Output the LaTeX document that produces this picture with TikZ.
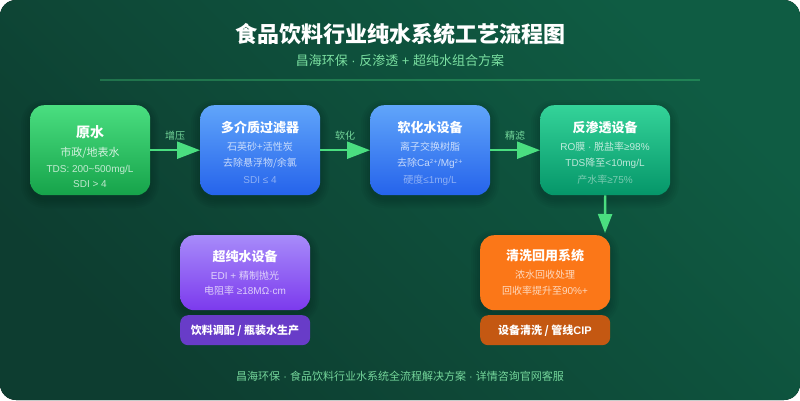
\documentclass[tikz,border=0pt]{standalone}
\usepackage{fontspec}
\setmainfont{Liberation Sans}
\newfontfamily\cjkf{Noto Sans CJK SC}
\newfontfamily\supf{DejaVu Sans}
\newcommand{\zh}[1]{{\cjkf #1}}
\usetikzlibrary{arrows.meta}
\definecolor{bgA}{HTML}{0D3D30}
\definecolor{bgB}{HTML}{0F5C43}
\definecolor{arrowgreen}{HTML}{4ADE80}
\definecolor{lab}{HTML}{86EFAC}
\definecolor{gA}{HTML}{4ADE80}\definecolor{gB}{HTML}{16A34A}
\definecolor{bA}{HTML}{60A5FA}\definecolor{bB}{HTML}{2563EB}
\definecolor{tA}{HTML}{34D399}\definecolor{tB}{HTML}{059669}
\definecolor{pA}{HTML}{A78BFA}\definecolor{pB}{HTML}{7C3AED}
\definecolor{oA}{HTML}{FB7718}
\definecolor{pD}{HTML}{683CC8}\definecolor{oD}{HTML}{C45812}
\tikzset{
  x=1pt,y=-1pt,
  boxbase/.style={rectangle,rounded corners=14pt,inner sep=0pt,minimum height=#1,anchor=north west},
  outbox/.style={rectangle,rounded corners=8pt,inner sep=0pt,minimum height=30pt,minimum width=130pt,anchor=north west},
  ttl/.style={font=\fontsize{13}{15}\selectfont\bfseries,text=white,anchor=center,inner sep=0pt},
  sub/.style={font=\fontsize{10}{12}\selectfont,text=white,text opacity=.72,anchor=center,inner sep=0pt},
  subf/.style={font=\fontsize{10}{12}\selectfont,text=white,text opacity=.45,anchor=center,inner sep=0pt},
  arr/.style={draw=arrowgreen,line width=2.4pt,-{Triangle[length=23pt,width=17pt]}},
  arrd/.style={draw=arrowgreen,line width=2.4pt,shorten >=2pt,-{Triangle[length=19pt,width=14pt]}},
  edgelab/.style={font=\fontsize{10}{12}\selectfont,text=lab,text opacity=.85,anchor=center,inner sep=0pt},
  foot/.style={font=\fontsize{11}{13}\selectfont,text=lab,text opacity=.85,anchor=center,inner sep=0pt},
  outtxt/.style={font=\fontsize{11}{13}\selectfont\bfseries,text=white,inner sep=0pt},
}
\newcommand{\softshadow}[4]{% x0,y0,x1,y1
  \foreach \e in {9,7,5,3,1}{
    \fill[black,opacity=.03,rounded corners={14pt+\e pt}]
      (#1-\e,#2+4-\e) rectangle (#3+\e,#4+4+\e);
  }
}
\begin{document}
\begin{tikzpicture}
\useasboundingbox (0,0) rectangle (800,400);
\fill[white] (0,0) rectangle (800,400);
\fill[rounded corners=16pt,left color=bgA,right color=bgB,shading angle=135] (0,0) rectangle (800,400);

\node[font=\fontsize{22}{26}\selectfont\bfseries,text=white,inner sep=0pt] (title) at (400,34) {\zh{食品饮料行业纯水系统工艺流程图}};
\node[font=\fontsize{13}{16}\selectfont,text=lab,text opacity=.9,inner sep=0pt] (subtitle) at (400,61) {\zh{昌海环保} · \zh{反渗透} + \zh{超纯水组合方案}};
\draw[draw=arrowgreen,draw opacity=.3,line width=1.2pt] (100,80) coordinate (ruleL) -- (700,80) coordinate (ruleR);

\softshadow{30}{105}{150}{195}
\softshadow{200}{105}{320}{195}
\softshadow{370}{105}{490}{195}
\softshadow{540}{105}{670}{195}
\softshadow{180}{235}{310}{310}
\softshadow{480}{235}{610}{310}

\node[boxbase=90pt,minimum width=120pt,top color=gA,bottom color=gB] (raw) at (30,105) {};
\node[boxbase=90pt,minimum width=120pt,top color=bA,bottom color=bB] (media) at (200,105) {};
\node[boxbase=90pt,minimum width=120pt,top color=bA,bottom color=bB] (soft) at (370,105) {};
\node[boxbase=90pt,minimum width=130pt,top color=tA,bottom color=tB] (ro) at (540,105) {};
\node[boxbase=75pt,minimum width=130pt,top color=pA,bottom color=pB] (ultra) at (180,235) {};
\node[boxbase=75pt,minimum width=130pt,fill=oA] (clean) at (480,235) {};
\node[outbox,fill=pD] (ultraout) at (180,315) {};
\node[outbox,fill=oD] (cleanout) at (480,315) {};

% raw
\node[ttl,font=\fontsize{14}{16}\selectfont\bfseries] (t1) at (90,132) {\zh{原水}};
\node[sub,font=\fontsize{11}{13}\selectfont,text opacity=.8] (t1a) at (90,153) {\zh{市政/地表水}};
\node[sub] (t1b) at (90,170) {TDS: 200\textasciitilde500mg/L};
\node[sub] (t1c) at (90,184) {SDI > 4};
% media
\node[ttl] (t2) at (260,128) {\zh{多介质过滤器}};
\node[sub] (t2a) at (260,147) {\zh{石英砂+活性炭}};
\node[sub] (t2b) at (260,163) {\zh{去除悬浮物/余氯}};
\node[subf] (t2c) at (260,180) {SDI ≤ 4};
% soft
\node[ttl] (t3) at (430,128) {\zh{软化水设备}};
\node[sub] (t3a) at (430,147) {\zh{离子交换树脂}};
\node[sub] (t3b) at (430,163) {\zh{去除}Ca{\supf\fontsize{5.5}{7}\selectfont\raisebox{2.5pt}{2+}}/Mg{\supf\fontsize{5.5}{7}\selectfont\raisebox{2.5pt}{2+}}};
\node[subf] (t3c) at (430,180) {\zh{硬度}≤1mg/L};
% ro
\node[ttl] (t4) at (605,128) {\zh{反渗透设备}};
\node[sub] (t4a) at (605,147) {RO\zh{膜} · \zh{脱盐率}≥98\%};
\node[sub] (t4b) at (605,163) {TDS\zh{降至}<10mg/L};
\node[subf] (t4c) at (605,180) {\zh{产水率}≥75\%};
% ultra
\node[ttl] (t5) at (245,256) {\zh{超纯水设备}};
\node[sub] (t5a) at (245,276) {EDI + \zh{精制抛光}};
\node[sub] (t5b) at (245,291) {\zh{电阻率} ≥18MΩ·cm};
% clean
\node[ttl] (t6) at (545,256) {\zh{清洗回用系统}};
\node[sub] (t6a) at (545,275) {\zh{浓水回收处理}};
\node[sub] (t6b) at (545,291) {\zh{回收率提升至}90\%+};
% outputs
\node[outtxt] (t7) at (245,331) {\zh{饮料调配 / 瓶装水生产}};
\node[outtxt] (t8) at (545,331) {\zh{设备清洗 / 管线}CIP};

% connectors
\draw[arr] (raw.east) -- (media.west);
\draw[arr] (media.east) -- (soft.west);
\draw[arr] (soft.east) -- (ro.west);
\coordinate (rotip) at (605,235);
\draw[arrd] (ro.south) -- (rotip);

\node[edgelab] (l1) at (175,136) {\zh{增压}};
\node[edgelab] (l2) at (345,136) {\zh{软化}};
\node[edgelab] (l3) at (515,136) {\zh{精滤}};

\node[foot] (footer) at (400,376) {\zh{昌海环保} · \zh{食品饮料行业水系统全流程解决方案} · \zh{详情咨询官网客服}};
\end{tikzpicture}
\end{document}
